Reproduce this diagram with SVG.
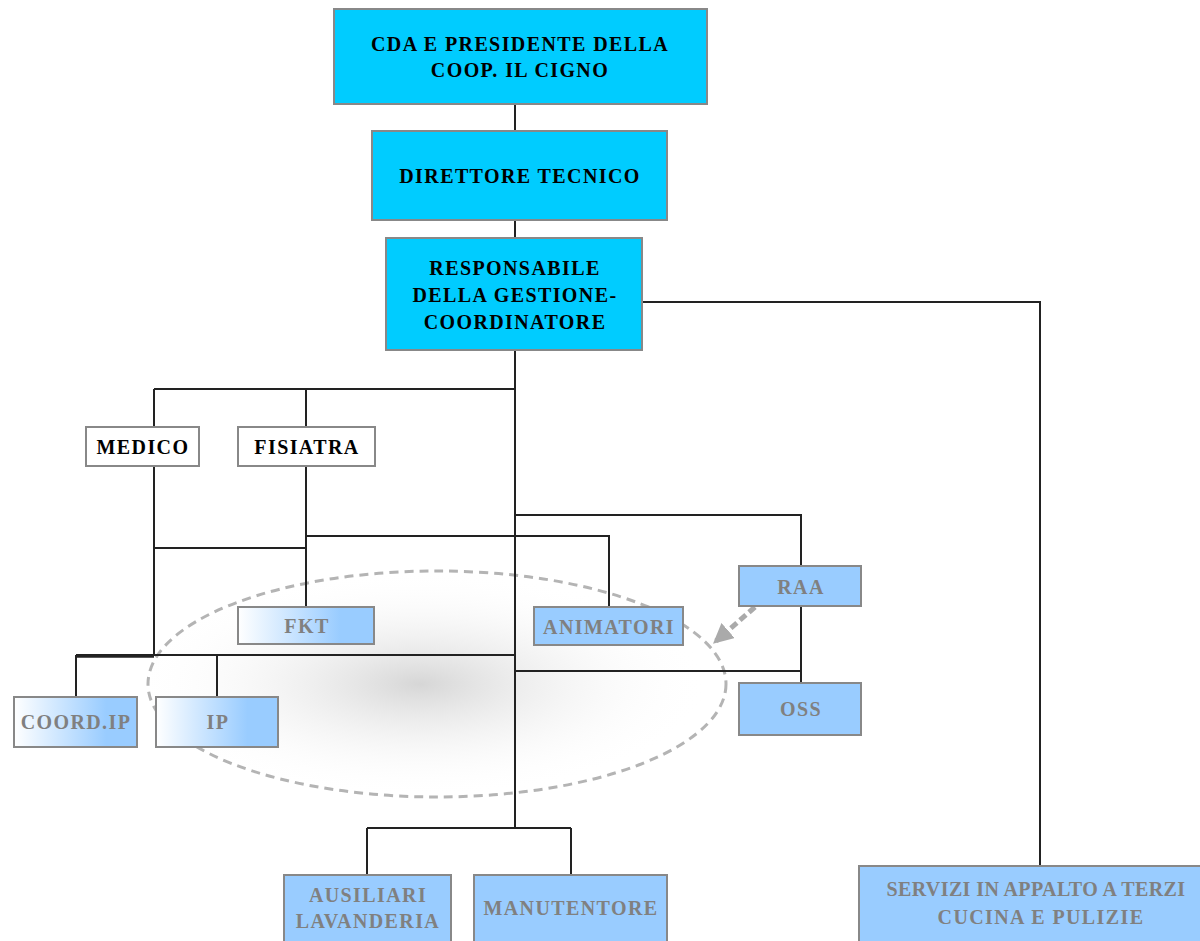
<svg xmlns="http://www.w3.org/2000/svg" width="1200" height="941" viewBox="0 0 1200 941">
<defs>
<style>
.top{fill:#00ccff;stroke:#888;stroke-width:2}
.wht{fill:#fff;stroke:#888;stroke-width:2}
.blu{fill:#99ccff;stroke:#888;stroke-width:2}
.grd{fill:url(#lg);stroke:#888;stroke-width:2}
.t{font-family:"Liberation Serif","Times New Roman",serif;font-weight:bold;font-size:20px;letter-spacing:1.4px;text-anchor:middle}
.k{fill:#000}
.g{fill:#808080}
.ln{fill:none;stroke:#222;stroke-width:2}
</style>
<linearGradient id="lg" x1="0" y1="0" x2="1" y2="0">
<stop offset="0" stop-color="#ffffff"/>
<stop offset="0.75" stop-color="#99ccff"/>
<stop offset="1" stop-color="#99ccff"/>
</linearGradient>
<radialGradient id="rg" cx="0.47" cy="0.5" r="0.5">
<stop offset="0" stop-color="#d6d6d6"/>
<stop offset="1" stop-color="#ffffff" stop-opacity="0"/>
</radialGradient>
<marker id="ah" viewBox="0 0 10 10" refX="8" refY="5" markerWidth="4" markerHeight="4" orient="auto">
<path d="M0,0 L10,5 L0,10 z" fill="#aaa"/>
</marker>
</defs>
<rect width="1200" height="941" fill="#fff"/>
<g id="ellipse">
<ellipse cx="437" cy="684" rx="289" ry="113" fill="url(#rg)" stroke="#b4b4b4" stroke-width="3" stroke-dasharray="9,6"/>
</g>
<g id="connectors">
<path class="ln" d="M515,104 V131 M515,220 V238 M515,350 V828 M154,389 H515 M154,389 V427 M306,389 V427 M154,466 V656 M306,466 V607 M154,548 H306 M306,536 H609 V607 M515,515 H801 V566 M801,606 V683 M515,671 H801 M76,655 H515 M76,655 V697 M217,655 V697 M367,828 H571 M367,828 V875 M571,828 V875 M642,302 H1040 V866"/>
<path d="M76,656 H154" stroke="#222" stroke-width="3.5"/>
<path d="M755,607 L716,641" stroke="#aaa" stroke-width="5" stroke-dasharray="8,4" marker-end="url(#ah)"/>
</g>
<g id="cda"><rect class="top" x="334" y="9" width="373" height="95"/><text class="t k" x="520" y="51">CDA E PRESIDENTE DELLA</text><text class="t k" x="520" y="77">COOP. IL CIGNO</text></g>
<g id="direttore"><rect class="top" x="372" y="131" width="295" height="89"/><text class="t k" x="520" y="183">DIRETTORE TECNICO</text></g>
<g id="responsabile"><rect class="top" x="386" y="238" width="256" height="112"/><text class="t k" x="515" y="275">RESPONSABILE</text><text class="t k" x="515" y="302">DELLA GESTIONE-</text><text class="t k" x="515" y="329">COORDINATORE</text></g>
<g id="medico"><rect class="wht" x="86" y="427" width="113" height="39"/><text class="t k" x="143" y="454">MEDICO</text></g>
<g id="fisiatra"><rect class="wht" x="238" y="427" width="137" height="39"/><text class="t k" x="307" y="454">FISIATRA</text></g>
<g id="fkt"><rect class="grd" x="238" y="607" width="136" height="37"/><text class="t g" x="307" y="633">FKT</text></g>
<g id="animatori"><rect class="blu" x="534" y="607" width="149" height="38"/><text class="t g" x="609" y="634">ANIMATORI</text></g>
<g id="raa"><rect class="blu" x="739" y="566" width="122" height="40"/><text class="t g" x="801" y="594">RAA</text></g>
<g id="oss"><rect class="blu" x="739" y="683" width="122" height="52"/><text class="t g" x="801" y="716">OSS</text></g>
<g id="coordip"><rect class="grd" x="14" y="697" width="123" height="50"/><text class="t g" x="76" y="729">COORD.IP</text></g>
<g id="ip"><rect class="grd" x="156" y="697" width="122" height="50"/><text class="t g" x="218" y="729">IP</text></g>
<g id="ausiliari"><rect class="blu" x="284" y="875" width="167" height="80"/><text class="t g" x="368" y="902">AUSILIARI</text><text class="t g" x="368" y="928">LAVANDERIA</text></g>
<g id="manutentore"><rect class="blu" x="474" y="875" width="193" height="80"/><text class="t g" x="571" y="915">MANUTENTORE</text></g>
<g id="servizi"><rect class="blu" x="859" y="866" width="362" height="90"/><text class="t g" x="1036" y="896" style="letter-spacing:0.4px">SERVIZI IN APPALTO A TERZI</text><text class="t g" x="1041" y="924">CUCINA E PULIZIE</text></g>
</svg>
